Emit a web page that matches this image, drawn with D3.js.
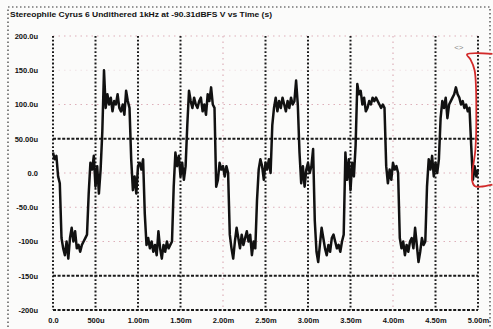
<!DOCTYPE html>
<html>
<head>
<meta charset="utf-8">
<script src="https://cdn.jsdelivr.net/npm/d3@7"></script>
<style>
  html, body { margin: 0; padding: 0; background: #fbfbfa; }
  svg { display: block; font-family: "Liberation Sans", Arial, sans-serif; }
  .tick-label { font-size: 7.5px; font-weight: bold; fill: #111; }
  .title { font-size: 8px; font-weight: bold; fill: #111; }
</style>
</head>
<body>
<div id="chart"></div>
<script>
// Chart data
var title = "Stereophile Cyrus 6 Undithered 1kHz at -90.31dBFS V vs Time (s)";

// x ticks, in ms
var timeTicks = [0, 0.5, 1.0, 1.5, 2.0, 2.5, 3.0, 3.5, 4.0, 4.5, 5.0];
var timeLabels = ["0.0", "500u", "1.00m", "1.50m", "2.00m", "2.50m", "3.00m", "3.50m", "4.00m", "4.50m", "5.00m"];
var timeFaint = [2.0, 4.0];

// y ticks, in uV
var voltTicks = [200, 150, 100, 50, 0, -50, -100, -150, -200];
var voltLabels = ["200.0u", "150.0u", "100.0u", "50.00u", "0.0", "-50.0u", "-100u", "-150u", "-200u"];
var voltDark = [50, -150, -200];

// trace, one value every 0.02 ms (uV)
var sampleStepMs = 0.02;
var traceUV = [
  30, 20, 25, -5, -15, -95, -110, -120, -100, -125,
  -95, -80, -100, -85, -110, -105, -115, -105, -100, -95,
  -90, -30, 15, 5, 25, -20, 10, -30, 5, 60,
  150, 95, 115, 100, 110, 90, 105, 100, 115, 95,
  90, 100, 85, 120, 105, 95, 20, -25, -5, -30,
  10, 15, 5, 20, -60, -105, -95, -110, -100, -115,
  -105, -120, -85, -110, -125, -105, -115, -100, -110, -105,
  -100, -20, 30, 10, 25, -5, 15, -10, 10, 70,
  120, 105, 95, 110, 100, 95, 105, 110, 90, 100,
  85, 115, 105, 125, 100, 95, -20, -10, 15, 5,
  10, -5, 10, 0, -90, -110, -125, -100, -80, -95,
  -110, -90, -105, -95, -85, -100, -90, -120, -100, -110,
  -40, 5, 20, 10, -10, 15, 5, 20, 0, 70,
  95, 110, 90, 105, 95, 110, 100, 90, 105, 95,
  110, 100, 105, 135, 100, 30, -15, 10, -20, 5,
  15, 0, 10, 35, -70, -115, -130, -105, -80, -95,
  -110, -120, -105, -115, -95, -90, -100, -110, -105, -115,
  -100, -90, 30, -10, 20, -25, 15, -5, 40, 130,
  115, 120, 100, 110, 90, 95, 105, 100, 110, 105,
  110, 105, 100, 95, 100, 95, 10, -15, 5, -10,
  15, 5, 10, 0, -95, -110, -100, -120, -105, -115,
  -100, -95, -110, -80, -105, -130, -115, -95, -105, -100,
  -20, 20, 5, 25, -5, 15, 0, 20, 80, 105,
  95, 110, 80, 100, 105, 110, 115, 125, 115, 110,
  100, 105, 95, 100, 90, 95, 40, -10, 10, -5,
  5
];

// red hand-drawn bracket on the print: [ms, uV]
var bracketPoints = [
  [5.17, 174], [4.87, 173], [4.91, 166], [4.96, 150], [4.98, 82],
  [4.97, 35], [4.93, -10], [4.96, -19], [5.03, -20], [5.17, -17]
];

var W = 493, H = 329;
var svg = d3.select("#chart").append("svg")
  .attr("width", W)
  .attr("height", H);

svg.append("rect")
  .attr("width", W).attr("height", H)
  .attr("fill", "#fbfbfa");

// outer dotted frame of the print
svg.append("rect")
  .attr("x", 8).attr("y", 7)
  .attr("width", 482).attr("height", 340)
  .attr("fill", "none")
  .attr("stroke", "#333")
  .attr("stroke-width", 1.2)
  .attr("stroke-dasharray", "1.5,2.5");

svg.append("text")
  .attr("class", "title")
  .attr("x", 10).attr("y", 17)
  .attr("textLength", 262)
  .attr("lengthAdjust", "spacingAndGlyphs")
  .text(title);

var xScale = d3.scaleLinear().domain([0, 5]).range([53, 478]);
var yScale = d3.scaleLinear().domain([-200, 200]).range([310, 36]);

var dark = "#1a1a1a", faint = "#ddb0ba";

// horizontal grid
svg.append("g").selectAll("line")
  .data(voltTicks)
  .join("line")
  .attr("x1", xScale(0)).attr("x2", xScale(5))
  .attr("y1", d => yScale(d)).attr("y2", d => yScale(d))
  .attr("stroke", d => voltDark.indexOf(d) >= 0 ? dark : (d === 150 ? "#f0e2e5" : faint))
  .attr("stroke-width", d => voltDark.indexOf(d) >= 0 ? 1.8 : 1.2)
  .attr("stroke-dasharray", d => voltDark.indexOf(d) >= 0 ? "3,1.6" : "1.5,4");

// vertical grid
svg.append("g").selectAll("line")
  .data(timeTicks)
  .join("line")
  .attr("x1", d => xScale(d)).attr("x2", d => xScale(d))
  .attr("y1", yScale(200)).attr("y2", yScale(-200))
  .attr("stroke", d => timeFaint.indexOf(d) >= 0 ? faint : dark)
  .attr("stroke-width", d => timeFaint.indexOf(d) >= 0 ? 1.2 : 2)
  .attr("stroke-dasharray", d => timeFaint.indexOf(d) >= 0 ? "1.5,4" : "1.8,2");

// axes labels
var yAxis = d3.axisLeft(yScale)
  .tickValues(voltTicks)
  .tickFormat((d, i) => voltLabels[i])
  .tickSize(0)
  .tickPadding(15);
var gy = svg.append("g")
  .attr("transform", "translate(" + xScale(0) + ",0)")
  .call(yAxis);
gy.select(".domain").remove();
gy.selectAll("text").attr("class", "tick-label").attr("font-family", null).attr("font-size", null);

var xAxis = d3.axisBottom(xScale)
  .tickValues(timeTicks)
  .tickFormat((d, i) => timeLabels[i])
  .tickSize(0)
  .tickPadding(8);
var gx = svg.append("g")
  .attr("transform", "translate(0," + yScale(-200) + ")")
  .call(xAxis);
gx.select(".domain").remove();
gx.selectAll("text").attr("class", "tick-label").attr("font-family", null).attr("font-size", null);

// small mark near top right of the plot
svg.append("text")
  .attr("x", xScale(4.72)).attr("y", yScale(180))
  .attr("font-size", 8)
  .attr("fill", "#8a8a8a")
  .text("<>");

// the trace
var line = d3.line()
  .x((d, i) => xScale(i * sampleStepMs))
  .y(d => yScale(d));

svg.append("path")
  .datum(traceUV)
  .attr("fill", "none")
  .attr("stroke", "#111")
  .attr("stroke-width", 2.5)
  .attr("stroke-linejoin", "round")
  .attr("d", line);

// red bracket
var bracketLine = d3.line()
  .x(d => xScale(d[0]))
  .y(d => yScale(d[1]))
  .curve(d3.curveCatmullRom.alpha(0.5));

svg.append("path")
  .datum(bracketPoints)
  .attr("fill", "none")
  .attr("stroke", "#d22a2a")
  .attr("stroke-width", 1.8)
  .attr("d", bracketLine);
</script>
</body>
</html>
